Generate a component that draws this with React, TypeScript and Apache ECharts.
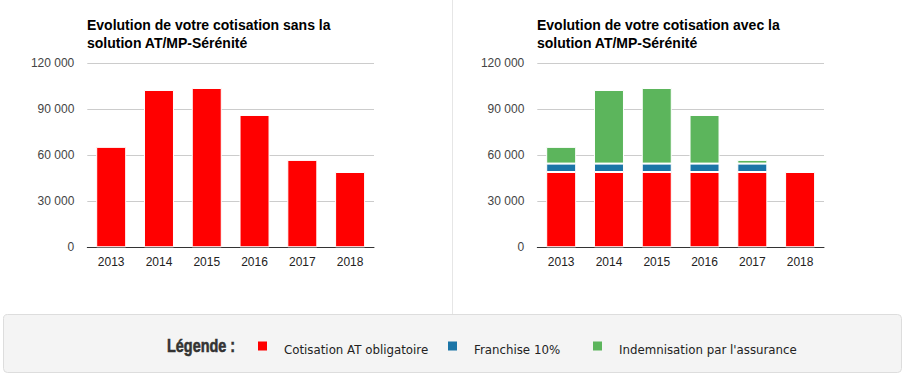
import React, { useEffect, useRef } from "react";
import * as echarts from "echarts";

const categories = ["2013", "2014", "2015", "2016", "2017", "2018"];
const yTicks = [0, 30000, 60000, 90000, 120000];
// Left chart: contribution without the AT/MP-Sérénité solution
const sansValues = [65500, 102600, 103900, 86300, 57000, 49100];
// Right chart: stacked components
const cotisationValues = [49100, 49100, 49100, 49100, 49100, 49100];
const franchiseValues = [5500, 5500, 5500, 5500, 5500, null];
const indemnisationValues = [10900, 48000, 49300, 31700, 2400, null];

const titleLeft = "Evolution de votre cotisation sans la\nsolution AT/MP-Sérénité";
const titleRight = "Evolution de votre cotisation avec la\nsolution AT/MP-Sérénité";
const legendTitle = "Légende :";
const legendNames = ["Cotisation AT obligatoire", "Franchise 10%", "Indemnisation par l'assurance"];
const RED = "#ff0000";
const BLUE = "#1b75a7";
const GREEN = "#5cb55c";
const legendColors = [RED, BLUE, GREEN];
const legendSquareX = [258, 448, 593];

const fmt = (v: number) => {
  if (v === 0) return "0";
  return String(v).replace(/\B(?=(\d{3})+(?!\d))/g, " ");
};

export default function App() {
  const ref = useRef<HTMLDivElement>(null);
  useEffect(() => {
    document.body.style.margin = "0";
    const chart = echarts.init(ref.current!, null, { renderer: "svg" });
    const yAxisBase = (gridIndex: number) => ({
      type: "value",
      gridIndex,
      min: 0,
      max: yTicks[yTicks.length - 1],
      interval: yTicks[1] - yTicks[0],
      axisLine: { show: false },
      axisTick: { show: false },
      splitLine: { lineStyle: { color: "#cccccc", width: 1 } },
      axisLabel: {
        formatter: (v: number) => fmt(v),
        color: "#444444",
        fontFamily: "Liberation Sans, Arial, sans-serif",
        fontSize: 12,
        margin: 13,
      },
    });
    const xAxisBase = (gridIndex: number) => ({
      type: "category",
      gridIndex,
      data: categories,
      axisTick: { show: false },
      axisLine: { lineStyle: { color: "#333333", width: 1 } },
      axisLabel: {
        color: "#222222",
        fontFamily: "Liberation Sans, Arial, sans-serif",
        fontSize: 12,
        margin: 9,
      },
    });
    const titleStyle = {
      color: "#000000",
      fontFamily: "Liberation Sans, Arial, sans-serif",
      fontSize: 14,
      fontWeight: "bold",
      lineHeight: 18,
    };
    const barItem = (color: string) => ({ color, borderColor: "#ffffff", borderWidth: 1 });

    const legendGraphics: any[] = [];
    legendNames.forEach((name, i) => {
      legendGraphics.push({
        type: "rect",
        shape: { x: legendSquareX[i], y: 341.5, width: 9, height: 9 },
        style: { fill: legendColors[i] },
        silent: true,
      });
      legendGraphics.push({
        type: "text",
        x: legendSquareX[i] + 26,
        y: 350,
        style: {
          text: name,
          fill: "#222222",
          font: "11.8px 'DejaVu Sans', Verdana, sans-serif",
          verticalAlign: "middle",
        },
        silent: true,
      });
    });

    chart.setOption({
      animation: false,
      backgroundColor: "#ffffff",
      title: [
        { text: titleLeft, left: 87, top: 16, textStyle: titleStyle, padding: 0 },
        { text: titleRight, left: 537, top: 16, textStyle: titleStyle, padding: 0 },
      ],
      grid: [
        { left: 87.3, right: 531, top: 63.3, bottom: 128.7 },
        { left: 537.3, right: 81, top: 63.3, bottom: 128.7 },
      ],
      xAxis: [xAxisBase(0), xAxisBase(1)],
      yAxis: [yAxisBase(0), yAxisBase(1)],
      graphic: [
        {
          type: "line",
          shape: { x1: 452.5, y1: 0, x2: 452.5, y2: 314 },
          style: { stroke: "#e6e6e6", lineWidth: 1 },
          silent: true,
        },
        {
          type: "rect",
          shape: { x: 3.5, y: 314.5, width: 898, height: 58, r: 4 },
          style: { fill: "#f4f4f4", stroke: "#dddddd", lineWidth: 1 },
          z: -1,
          silent: true,
        },
        {
          type: "text",
          x: 167,
          y: 346,
          scaleX: 0.76,
          style: {
            text: legendTitle,
            fill: "#333333",
            font: "bold 19px 'Liberation Sans', Arial, sans-serif",
            stroke: "#333333",
            lineWidth: 0.6,
            verticalAlign: "middle",
          },
          silent: true,
        },
        ...legendGraphics,
      ],
      series: [
        {
          name: "Cotisation sans AT/MP-Sérénité",
          type: "bar",
          xAxisIndex: 0,
          yAxisIndex: 0,
          data: sansValues,
          barWidth: 30,
          itemStyle: barItem(RED),
        },
        {
          name: legendNames[0],
          type: "bar",
          xAxisIndex: 1,
          yAxisIndex: 1,
          stack: "avec",
          data: cotisationValues,
          barWidth: 30,
          itemStyle: barItem(RED),
        },
        {
          name: legendNames[1],
          type: "bar",
          xAxisIndex: 1,
          yAxisIndex: 1,
          stack: "avec",
          data: franchiseValues,
          barWidth: 30,
          itemStyle: barItem(BLUE),
        },
        {
          name: legendNames[2],
          type: "bar",
          xAxisIndex: 1,
          yAxisIndex: 1,
          stack: "avec",
          data: indemnisationValues,
          barWidth: 30,
          itemStyle: barItem(GREEN),
        },
      ],
    });
    return () => chart.dispose();
  }, []);
  return <div ref={ref} style={{ width: 905, height: 376 }} />;
}
